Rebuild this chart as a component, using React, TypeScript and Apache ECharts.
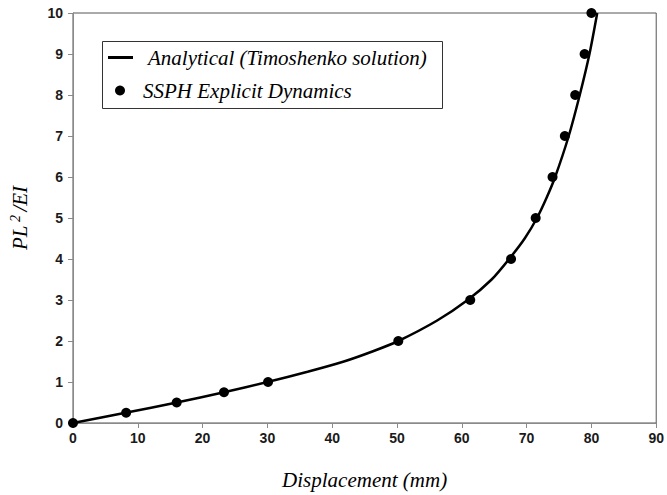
import React, { useEffect, useRef } from "react";
import * as echarts from "echarts";

const analyticalX = [0, 8.1, 16, 23.3, 30, 36.2, 41.8, 46.3, 50.2, 56.2, 60.9, 64.6, 67.3, 69.7, 71.6, 73.1, 74.4, 76.5, 78.2, 79.7, 80.9];
const analyticalY = [0, 0.25, 0.5, 0.75, 1, 1.25, 1.5, 1.75, 2, 2.5, 3, 3.5, 4, 4.5, 5, 5.5, 6, 7, 8, 9, 10];
const ssphX = [0, 8.2, 16.0, 23.3, 30.1, 50.2, 61.3, 67.6, 71.4, 74.0, 75.9, 77.5, 78.95, 80.0];
const ssphY = [0, 0.25, 0.5, 0.75, 1, 2, 3, 4, 5, 6, 7, 8, 9, 10];
const xTicks = [0, 10, 20, 30, 40, 50, 60, 70, 80, 90];
const yTicks = [0, 1, 2, 3, 4, 5, 6, 7, 8, 9, 10];

const S1 = "Analytical (Timoshenko solution)";
const S2 = "SSPH Explicit Dynamics";

export default function App() {
  const ref = useRef<HTMLDivElement>(null);
  useEffect(() => {
    if (!ref.current) return;
    const chart = echarts.init(ref.current, null, { renderer: "svg" });
    const serif = "Liberation Serif";
    const tickFont = { fontFamily: "Liberation Sans", fontWeight: "bold", fontSize: 14, color: "#1a1a1a" };
    chart.setOption({
      animation: false,
      grid: { left: 72.5, right: 9.5, top: 13, bottom: 71.7, show: true, borderColor: "#555", borderWidth: 1 },
      xAxis: {
        type: "value",
        min: xTicks[0],
        max: xTicks[xTicks.length - 1],
        interval: 10,
        name: "Displacement (mm)",
        nameLocation: "middle",
        nameGap: 46,
        nameTextStyle: { fontFamily: serif, fontStyle: "italic", fontSize: 21, color: "#000" },
        axisLine: { show: true, lineStyle: { color: "#8a8a8a" } },
        axisTick: { show: true, length: 5, lineStyle: { color: "#8a8a8a" } },
        axisLabel: { ...tickFont, margin: 8 },
        splitLine: { show: false },
      },
      yAxis: {
        type: "value",
        min: yTicks[0],
        max: yTicks[yTicks.length - 1],
        interval: 1,
        name: "{a|PL}{s| 2 }{a|/EI}",
        nameLocation: "middle",
        nameGap: 41,
        nameRotate: 90,
        nameTextStyle: {
          rich: {
            a: { fontFamily: serif, fontStyle: "italic", fontSize: 21, color: "#000" },
            s: { fontFamily: serif, fontStyle: "italic", fontSize: 14, color: "#000", verticalAlign: "top", padding: [0, 0, 10, 0] },
          },
        },
        axisLine: { show: true, lineStyle: { color: "#8a8a8a" } },
        axisTick: { show: true, length: 5, lineStyle: { color: "#8a8a8a" } },
        axisLabel: { ...tickFont, margin: 10 },
        splitLine: { show: false },
      },
      legend: [
        {
          data: [{ name: S1, icon: "rect" }],
          left: 108,
          top: 47,
          padding: 0,
          itemWidth: 25,
          itemHeight: 3,
          textStyle: { fontFamily: serif, fontStyle: "italic", fontSize: 21, color: "#000", padding: [0, 0, 0, 10] },
        },
        {
          data: [{ name: S2, icon: "circle" }],
          left: 115,
          top: 80,
          padding: 0,
          itemWidth: 10,
          itemHeight: 10,
          textStyle: { fontFamily: serif, fontStyle: "italic", fontSize: 21, color: "#000", padding: [0, 0, 0, 13] },
        },
      ],
      graphic: [
        {
          type: "rect",
          shape: { x: 102.5, y: 41.5, width: 340, height: 67 },
          style: { fill: "none", stroke: "#333", lineWidth: 1 },
          z: 100,
        },
      ],
      series: [
        {
          name: S1,
          type: "line",
          data: analyticalX.map((x, i) => [x, analyticalY[i]]),
          smooth: 0.25,
          showSymbol: false,
          symbol: "none",
          lineStyle: { color: "#000", width: 2.5 },
          itemStyle: { color: "#000" },
          z: 2,
        },
        {
          name: S2,
          type: "scatter",
          data: ssphX.map((x, i) => [x, ssphY[i]]),
          symbol: "circle",
          symbolSize: 10,
          itemStyle: { color: "#000", opacity: 1 },
          clip: false,
          z: 3,
        },
      ],
    });
    return () => chart.dispose();
  }, []);
  return <div ref={ref} style={{ width: 667, height: 495, position: "absolute", left: 0, top: 0 }} />;
}
